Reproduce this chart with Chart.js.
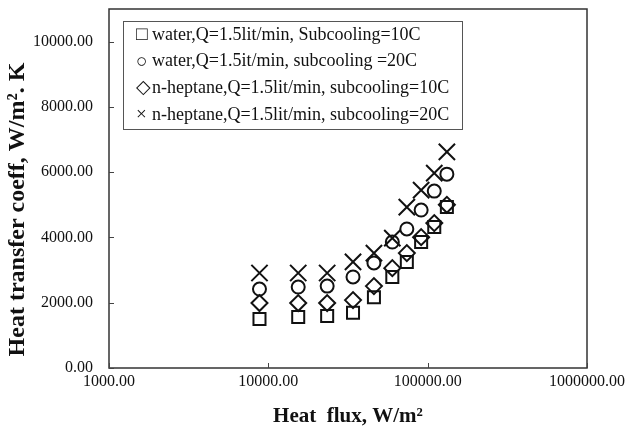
<!DOCTYPE html>
<html>
<head>
<meta charset="utf-8">
<script src="https://cdn.jsdelivr.net/npm/chart.js@4"></script>
<style>
  html, body { margin: 0; padding: 0; background: #fff; }
  #wrap { width: 630px; height: 430px; }
</style>
</head>
<body>
<div id="wrap"><canvas id="hfChart" width="630" height="430"></canvas></div>
<script>
// heat flux (W/m2), shared by all runs
const heatFlux = [8800, 15400, 23400, 34000, 46000, 60000, 74000, 91000, 110000, 132000];
const water10 = [1500, 1560, 1590, 1690, 2170, 2790, 3250, 3860, 4320, 4930];
const water20 = [2420, 2480, 2510, 2790, 3220, 3860, 4260, 4840, 5420, 5940];
const heptane10 = [1990, 1990, 1990, 2080, 2510, 3060, 3520, 4010, 4440, 5000];
const heptane20 = [2910, 2910, 2910, 3250, 3520, 3980, 4930, 5450, 5970, 6620];

const seriesLabels = [
    'water,Q=1.5lit/min, Subcooling=10C',
    'water,Q=1.5it/min, subcooling =20C',
    'n-heptane,Q=1.5lit/min, subcooling=10C',
    'n-heptane,Q=1.5lit/min, subcooling=20C'
];
const legendSymbols = ['\u25A1', '\u25CB', '\u25C7', '\u00D7'];
const xTicks = [1000, 10000, 100000, 1000000];
const yTicks = [0, 2000, 4000, 6000, 8000, 10000];

const serif = '"Liberation Serif", "Times New Roman", serif';

function pts(ys) {
    return heatFlux.map((x, i) => ({ x: x, y: ys[i] }));
}

// plot frame, inward tick marks and the boxed legend
const framePlugin = {
    id: 'frame',
    afterDraw(chart) {
        const ctx = chart.ctx;
        const a = chart.chartArea;
        const xs = chart.scales.x, ys = chart.scales.y;
        ctx.save();
        ctx.strokeStyle = '#333';
        ctx.lineWidth = 1.5;
        ctx.strokeRect(a.left, a.top, a.right - a.left, a.bottom - a.top);

        ctx.lineWidth = 1;
        ctx.strokeStyle = '#444';
        ctx.beginPath();
        yTicks.forEach(v => {
            const py = Math.round(ys.getPixelForValue(v)) + 0.5;
            ctx.moveTo(a.left, py);
            ctx.lineTo(a.left + 5, py);
        });
        xTicks.forEach(v => {
            const px = Math.round(xs.getPixelForValue(v)) + 0.5;
            ctx.moveTo(px, a.bottom);
            ctx.lineTo(px, a.bottom - 5);
        });
        ctx.stroke();

        // legend
        ctx.strokeStyle = '#555';
        ctx.lineWidth = 1;
        ctx.strokeRect(123.5, 21.5, 339, 108);
        ctx.fillStyle = '#111';
        ctx.textBaseline = 'middle';
        ctx.textAlign = 'left';
        seriesLabels.forEach((t, i) => {
            const y = 35 + i * 26.7;
            ctx.font = '19px ' + serif;
            ctx.fillText(legendSymbols[i], 136, y);
            ctx.font = '18px ' + serif;
            ctx.fillText(t, 152, y);
        });
        ctx.restore();
    }
};

const markerStyles = ['rect', 'circle', 'rectRot', 'crossRot'];
const markerSizes = [8.5, 6.5, 8, 11.5];
const allSeries = [water10, water20, heptane10, heptane20];

new Chart(document.getElementById('hfChart'), {
    type: 'scatter',
    data: {
        datasets: allSeries.map((s, i) => ({
            label: seriesLabels[i],
            data: pts(s),
            pointStyle: markerStyles[i],
            pointRadius: markerSizes[i],
            pointBorderWidth: 2,
            pointBorderColor: '#111',
            pointBackgroundColor: 'rgba(0,0,0,0)',
            showLine: false
        }))
    },
    options: {
        responsive: false,
        animation: false,
        layout: {
            autoPadding: false,
            padding: { top: 9, right: 43, left: 0, bottom: 0 }
        },
        plugins: {
            legend: { display: false },
            tooltip: { enabled: false }
        },
        scales: {
            x: {
                type: 'logarithmic',
                min: 1000,
                max: 1000000,
                afterBuildTicks: s => { s.ticks = xTicks.map(v => ({ value: v })); },
                afterFit: s => { s.height = 430 - 368; },
                grid: { display: false, drawTicks: false },
                border: { display: false },
                ticks: {
                    padding: 4,
                    color: '#111',
                    font: { family: serif, size: 16 },
                    callback: v => Number(v).toFixed(2)
                },
                title: {
                    display: true,
                    text: 'Heat  flux, W/m\u00B2',
                    color: '#111',
                    font: { family: serif, size: 21, weight: 'bold' },
                    padding: { top: 4, bottom: 1 }
                }
            },
            y: {
                min: 0,
                max: 11000,
                afterBuildTicks: s => { s.ticks = yTicks.map(v => ({ value: v })); },
                afterFit: s => {
                    s.width = 109;
                    s.paddingTop = 0;
                    s.paddingBottom = 0;
                },
                grid: { display: false, drawTicks: false },
                border: { display: false },
                ticks: {
                    padding: 16,
                    color: '#111',
                    font: { family: serif, size: 16 },
                    callback: v => Number(v).toFixed(2)
                },
                title: {
                    display: true,
                    text: 'Heat transfer coeff, W/m\u00B2. K       ',
                    color: '#111',
                    font: { family: serif, size: 24, weight: 'bold' },
                    padding: { top: 3, bottom: 0 }
                }
            }
        }
    },
    plugins: [framePlugin]
});
</script>
</body>
</html>
